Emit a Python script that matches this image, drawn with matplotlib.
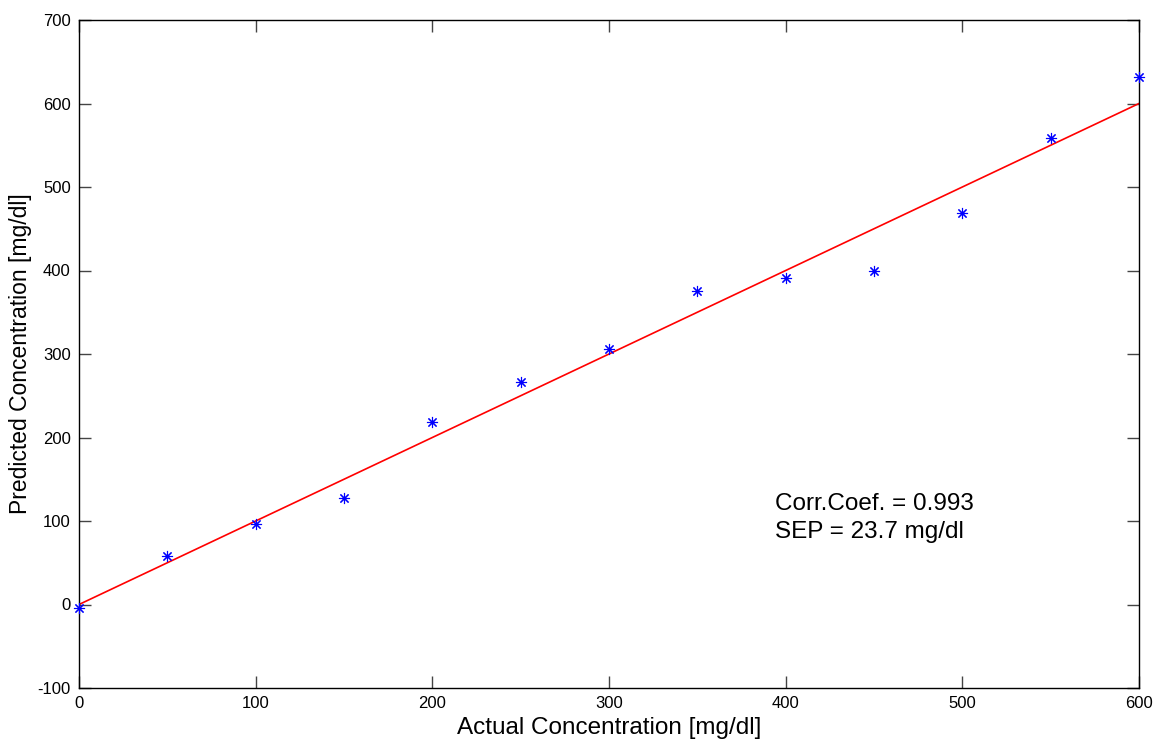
import matplotlib
matplotlib.use('Agg')
import matplotlib.pyplot as plt

plt.rcParams['font.family'] = ['Liberation Sans', 'DejaVu Sans']
plt.rcParams['axes.unicode_minus'] = False

# actual vs predicted concentration
actual = [0, 50, 100, 150, 200, 250, 300, 350, 400, 450, 500, 550, 600]
predicted = [-4, 58, 97, 127, 218, 267, 306, 375, 391, 399, 469, 559, 632]
fit_x = [0, 600]
fit_y = [0, 600]

fig = plt.figure(figsize=(11.57, 7.41), dpi=100)
ax = fig.add_axes([79 / 1157, 1 - 688 / 741, 1060 / 1157, 668 / 741])

ax.plot(fit_x, fit_y, color='red', lw=1.2, zorder=2)
ax.plot(actual, predicted, ls='none', marker=(8, 2, 0), color='blue', ms=8,
        markeredgewidth=0.8, zorder=3, clip_on=False)

ax.set_xlim(0, 600)
ax.set_ylim(-100, 700)
ax.set_xticks(range(0, 601, 100))
ax.set_yticks(range(-100, 701, 100))
ax.tick_params(direction='in', top=True, right=True, length=8.5, width=1.0,
               color='#444444', labelsize=12, pad=6)
for s in ax.spines.values():
    s.set_linewidth(1.0)

ax.set_xlabel('Actual Concentration [mg/dl]', fontsize=17.5, labelpad=4)
ax.set_ylabel('Predicted Concentration [mg/dl]', fontsize=16.5, labelpad=4)

ax.text(394, 120, 'Corr.Coef. = 0.993', fontsize=17.5, va='center')
ax.text(394, 87, 'SEP = 23.7 mg/dl', fontsize=17.5, va='center')

plt.savefig('out.png', dpi=100)
